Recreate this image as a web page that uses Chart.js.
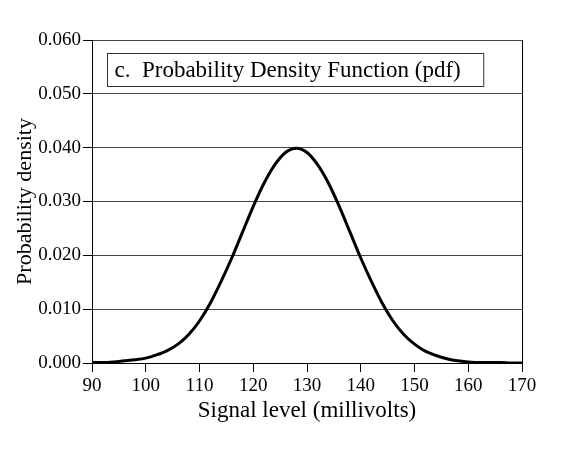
<!DOCTYPE html>
<html>
<head>
<meta charset="utf-8">
<script src="https://cdn.jsdelivr.net/npm/chart.js@4.4.1/dist/chart.umd.min.js"></script>
<style>
  html, body { margin: 0; padding: 0; background: #fff; }
  #wrap { width: 581px; height: 469px; }
</style>
</head>
<body>
<div id="wrap"><canvas id="pdfChart" width="581" height="469"></canvas></div>
<script>
// signal level (mV) and probability density
const signalLevels = [90, 92, 94, 96, 98, 100, 102, 104, 106, 108, 110, 112, 114, 116, 118, 120, 122, 124, 126, 128,
  130, 132, 134, 136, 138, 140, 142, 144, 146, 148, 150, 152, 154, 156, 158, 160, 162, 164, 166, 168, 170];
const density = [0.0001, 0.0001, 0.0002, 0.0004, 0.0006, 0.0009, 0.0015, 0.0023, 0.0035, 0.0053, 0.0078, 0.0111, 0.0151, 0.0195, 0.0243, 0.0291, 0.0334, 0.0368, 0.0391, 0.0399,
  0.0391, 0.0368, 0.0334, 0.0291, 0.0243, 0.0195, 0.0151, 0.0111, 0.0078, 0.0053, 0.0035, 0.0022, 0.0014, 0.0008, 0.0004, 0.0002, 0.0001, 0.0001, 0.0001, 0.0000, 0.0000];
const xTicks = [90, 100, 110, 120, 130, 140, 150, 160, 170];
const yTicks = [0.000, 0.010, 0.020, 0.030, 0.040, 0.050, 0.060];
const boxLabel = 'c.  Probability Density Function (pdf)';

const serif = '"Liberation Serif", "Times New Roman", serif';

const labelBox = {
    id: 'labelBox',
    afterDraw(chart) {
        const { ctx, chartArea } = chart;
        ctx.save();
        ctx.font = '23px ' + serif;
        const w = ctx.measureText(boxLabel).width;
        const x = chartArea.left + 15.5, y = chartArea.top + 13.5;
        ctx.fillStyle = '#fff';
        ctx.fillRect(x, y, w + 30, 33);
        ctx.strokeStyle = '#333';
        ctx.lineWidth = 1;
        ctx.strokeRect(x, y, w + 30, 33);
        ctx.fillStyle = '#000';
        ctx.textBaseline = 'middle';
        ctx.fillText(boxLabel, x + 7, y + 17);
        ctx.restore();
    }
};

new Chart(document.getElementById('pdfChart').getContext('2d'), {
    type: 'line',
    data: {
        labels: signalLevels,
        datasets: [{
            data: signalLevels.map((x, i) => ({ x: x, y: density[i] })),
            borderColor: '#000',
            borderWidth: 3,
            pointRadius: 0,
            fill: false,
            tension: 0.4,
            cubicInterpolationMode: 'monotone'
        }]
    },
    options: {
        responsive: false,
        animation: false,
        devicePixelRatio: 1,
        layout: { padding: { left: 0, top: 40, right: 59, bottom: 0 } },
        plugins: { legend: { display: false }, tooltip: { enabled: false } },
        scales: {
            x: {
                type: 'linear',
                min: 90, max: 170,
                afterBuildTicks: s => { s.ticks = xTicks.map(v => ({ value: v })); },
                afterFit: s => { s.height = 106; },
                border: { color: '#000', width: 1 },
                grid: {
                    color: c => (c.tick && c.tick.value === 170) ? '#000' : 'rgba(0,0,0,0)',
                    tickColor: '#000',
                    tickLength: 9
                },
                ticks: { color: '#000', font: { family: serif, size: 19 }, padding: 3, maxRotation: 0 },
                title: {
                    display: true,
                    text: 'Signal level (millivolts)',
                    color: '#000',
                    font: { family: serif, size: 23 },
                    padding: { top: 0, bottom: 44 }
                }
            },
            y: {
                min: 0, max: 0.06,
                afterBuildTicks: s => { s.ticks = yTicks.map(v => ({ value: v })); },
                afterFit: s => { s.width = 92; },
                border: { color: '#000', width: 1 },
                grid: { color: '#444', tickColor: '#000', tickLength: 9 },
                ticks: {
                    color: '#000', font: { family: serif, size: 19 }, padding: 2,
                    callback: v => v.toFixed(3)
                },
                title: {
                    display: true,
                    text: 'Probability density',
                    color: '#000',
                    font: { family: serif, size: 22 },
                    padding: { top: 12, bottom: 0 }
                }
            }
        }
    },
    plugins: [labelBox]
});
</script>
</body>
</html>
